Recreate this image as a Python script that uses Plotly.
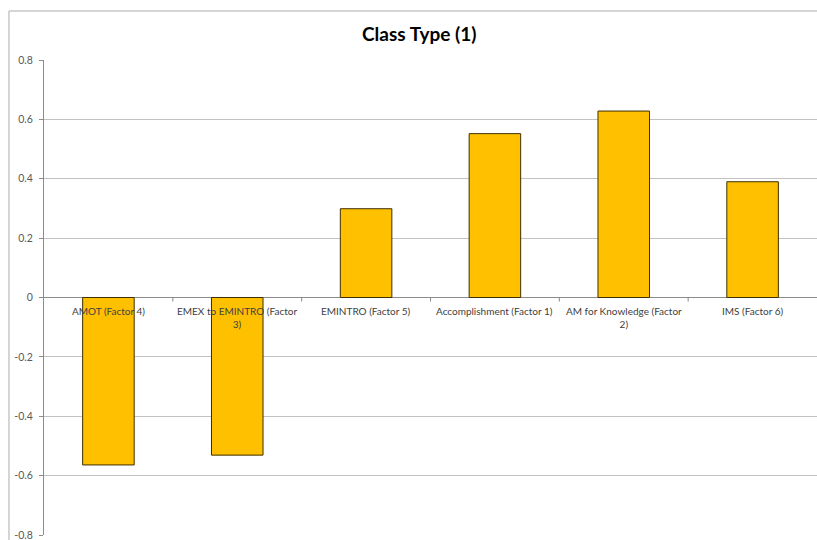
import plotly.graph_objects as go

# Factor scores for class type (1)
categories = [
    "AMOT (Factor 4)",
    "EMEX to EMINTRO (Factor<br>3)",
    "EMINTRO (Factor 5)",
    "Accomplishment (Factor 1)",
    "AM for Knowledge (Factor<br>2)",
    "IMS (Factor 6)",
]
values = [-0.564, -0.531, 0.299, 0.552, 0.628, 0.390]
y_ticks = [-0.8, -0.6, -0.4, -0.2, 0, 0.2, 0.4, 0.6, 0.8]
y_tick_text = ["-0.8", "-0.6", "-0.4", "-0.2", "0", "0.2", "0.4", "0.6", "0.8"]

FONT = "Lato, 'Open Sans', sans-serif"
x_idx = list(range(len(categories)))

fig = go.Figure()
fig.add_trace(go.Bar(
    x=x_idx,
    y=values,
    marker=dict(color="#FFC000", line=dict(color="#3d2f00", width=1)),
    width=0.4,
    hoverinfo="skip",
))

# Category labels sit just below the zero line
for i, name in enumerate(categories):
    fig.add_annotation(
        x=i, y=0, xref="x", yref="y",
        text=name, showarrow=False,
        yanchor="top", yshift=-5,
        font=dict(family=FONT, size=10, color="#404040"),
        align="center",
    )

# Category separator ticks on the zero line
for i in range(1, len(categories)):
    fig.add_shape(
        type="line", xref="x", yref="y",
        x0=i - 0.5, x1=i - 0.5,
        ysizemode="pixel", yanchor=0, y0=0, y1=-4,
        line=dict(color="#888888", width=1),
    )

# Chart-area border (left and top edges)
fig.add_shape(type="line", xref="paper", yref="paper",
              x0=-0.0453, x1=-0.0453, y0=-0.02, y1=1.103,
              line=dict(color="#C8C8C8", width=1.5))
fig.add_shape(type="line", xref="paper", yref="paper",
              x0=-0.0453, x1=1.01, y0=1.103, y1=1.103,
              line=dict(color="#C8C8C8", width=1.5))

fig.add_annotation(
    text="<b>Class Type (1)</b>", xref="paper", yref="paper",
    x=0.486, y=1.055, showarrow=False, xanchor="center", yanchor="middle",
    font=dict(family=FONT, size=19, color="#000000"),
)

fig.update_layout(
    width=817, height=540,
    margin=dict(l=44, r=0, t=60, b=5),
    paper_bgcolor="white", plot_bgcolor="white",
    showlegend=False,
    font=dict(family=FONT),
)
fig.update_xaxes(
    range=[-0.5, len(categories) - 0.5],
    showticklabels=False, showgrid=False, zeroline=False,
    showline=False, ticks="",
)
fig.update_yaxes(
    range=[-0.8, 0.8],
    tickvals=y_ticks, ticktext=y_tick_text,
    tickfont=dict(family=FONT, size=10.5, color="#595959"),
    ticklabeloverflow="allow", ticklabelstandoff=4,
    showgrid=True, gridcolor="#C2C2C2", gridwidth=1,
    zeroline=True, zerolinecolor="#8C8C8C", zerolinewidth=1,
    showline=True, linecolor="#8C8C8C", linewidth=1,
    ticks="outside", ticklen=4, tickcolor="#8C8C8C",
)

fig.write_html("out.html")
